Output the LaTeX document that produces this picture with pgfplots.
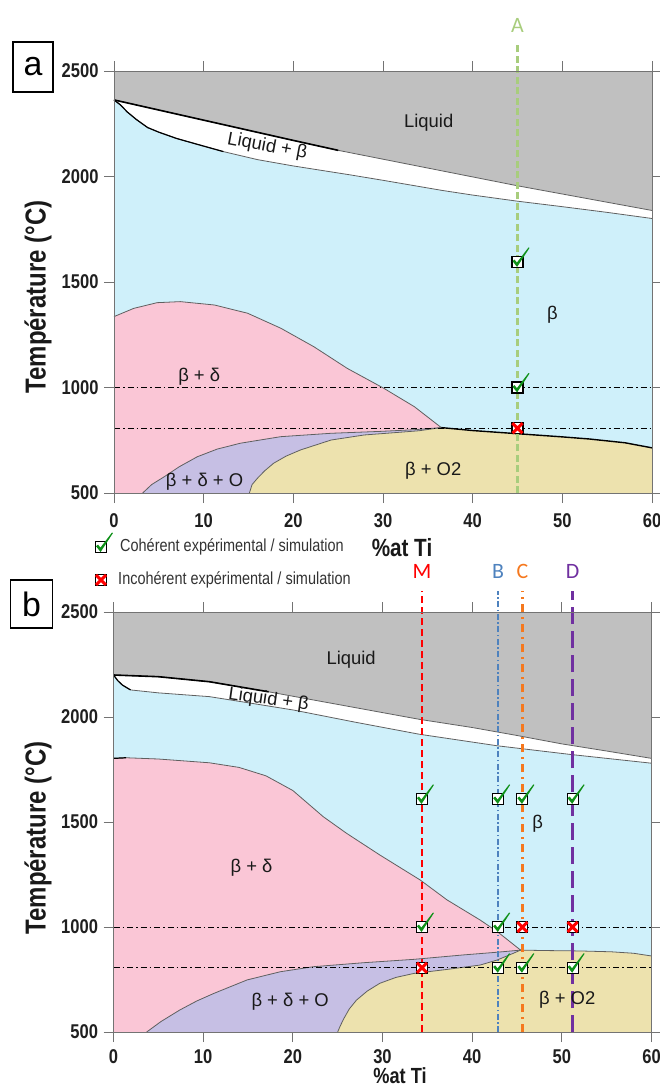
\documentclass[border=0pt]{standalone}
\usepackage{fontspec}
\setmainfont{Liberation Sans}
\newfontfamily\narrowfont[FakeStretch=0.83]{Liberation Sans}
\newfontfamily\calib{Carlito}
\usepackage{pgfplots}
\pgfplotsset{compat=1.18}

\definecolor{liqgray}{RGB}{192,192,192}
\definecolor{betablue}{RGB}{207,240,250}
\definecolor{bdpink}{RGB}{250,198,214}
\definecolor{bdopurple}{RGB}{198,191,228}
\definecolor{boyellow}{RGB}{237,226,174}
\definecolor{bndgray}{RGB}{95,95,95}
\definecolor{chkgreen}{RGB}{15,145,25}
\definecolor{agreen}{RGB}{168,205,125}
\definecolor{bblue}{RGB}{78,130,190}
\definecolor{corange}{RGB}{245,120,30}
\definecolor{dpurple}{RGB}{112,48,160}

\pgfdeclareplotmark{okbox}{%
  \pgfsetlinewidth{1.1bp}\pgfsetstrokecolor{black}\pgfsetfillcolor{white}%
  \pgfpathrectangle{\pgfpoint{-5.5bp}{-5.5bp}}{\pgfpoint{11bp}{11bp}}\pgfusepath{fill,stroke}%
  \pgfsetfillcolor{chkgreen}%
  \pgfpathmoveto{\pgfpoint{-5bp}{0.8bp}}%
  \pgfpathlineto{\pgfpoint{-3bp}{2.4bp}}%
  \pgfpathlineto{\pgfpoint{-0.6bp}{-0.6bp}}%
  \pgfpathlineto{\pgfpoint{11bp}{14.5bp}}%
  \pgfpathlineto{\pgfpoint{12bp}{14bp}}%
  \pgfpathlineto{\pgfpoint{-0.4bp}{-5bp}}%
  \pgfpathclose\pgfusepath{fill}}
\pgfdeclareplotmark{xbox}{%
  \pgfsetlinewidth{1.1bp}\pgfsetstrokecolor{black}\pgfsetfillcolor{white}%
  \pgfpathrectangle{\pgfpoint{-5.5bp}{-5.5bp}}{\pgfpoint{11bp}{11bp}}\pgfusepath{fill,stroke}%
  \pgfsetstrokecolor{red}\pgfsetlinewidth{3bp}%
  \pgfpathmoveto{\pgfpoint{-5bp}{-5bp}}\pgfpathlineto{\pgfpoint{5bp}{5bp}}%
  \pgfpathmoveto{\pgfpoint{-5bp}{5bp}}\pgfpathlineto{\pgfpoint{5bp}{-5bp}}%
  \pgfusepath{stroke}}

\pgfplotsset{
  phase/.style={
    scale only axis, width=538bp,
    xmin=0, xmax=60, ymin=500, ymax=2500,
    xtick={0,10,...,60}, ytick={500,1000,...,2500},
    tick align=outside, major tick length=10bp,
    axis line style={draw=black!55, line width=0.9bp},
    every tick/.style={draw=black!55, line width=0.9bp},
    ticklabel style={font=\narrowfont\bfseries\fontsize{20}{22}\selectfont, text=black!88},
    xticklabel style={yshift=-7bp},
    yticklabel style={xshift=-2bp},
    /pgf/number format/assume math mode=true,
    /pgf/number format/1000 sep={},
    clip=false, axis on top,
  },
}
\tikzset{
  bnd/.style={draw=bndgray, line width=0.8bp},
  bndk/.style={draw=black, line width=1.6bp},
  hline/.style={draw=black, line width=0.9bp, dash pattern=on 6bp off 3bp on 1.5bp off 3bp},
  reg/.style={font=\fontsize{18.5}{20}\selectfont, text=black!90},
  legtxt/.style={anchor=west, font=\narrowfont\fontsize{17.5}{19}\selectfont, text=black!80, inner sep=0pt},
  sec/.style={font=\calib\fontsize{22}{24}\selectfont},
}

\begin{document}
\begin{tikzpicture}
\path[use as bounding box] (0,0) rectangle (660bp,-1091bp);

% ================= panel a =================
\begin{axis}[phase, at={(114bp,-493bp)}, anchor=south west, height=422bp]
\addplot[fill=betablue, draw=none] coordinates {(0,500) (60,500) (60,2500) (0,2500)} -- cycle;
\addplot[fill=liqgray, draw=none] coordinates {(0,2363) (5,2315) (10,2267) (15,2219) (20,2171) (25,2124) (30,2082) (35,2040) (40,1998) (45,1956) (50,1917) (55,1878) (60,1839) (60,2500) (0,2500)} -- cycle;
\addplot[fill=white, draw=none] coordinates {(0,2363) (5,2315) (10,2267) (15,2219) (20,2171) (25,2124) (30,2082) (35,2040) (40,1998) (45,1956) (50,1917) (55,1878) (60,1839) (60,1801) (55,1830) (50,1857) (45,1883) (40,1912) (36.6,1934) (30,1982) (26.3,2008) (20,2050) (16,2080) (12.2,2118) (9.5,2150) (7,2180) (5,2210) (3.75,2232) (2.5,2270) (1.5,2305) (0.7,2340) (0,2363)} -- cycle;
\addplot[fill=bdpink, draw=none] coordinates {(0,1336) (2.2,1375) (4.8,1402) (7.4,1407) (11.2,1391) (14.9,1352) (18.6,1281) (22.3,1193) (26,1091) (30.1,996) (33.5,909) (36.5,810) (33.5,800) (29.7,792) (24.2,783) (18.6,767) (14.1,736) (11.5,708) (9.3,672) (7.3,625) (5.6,577) (4.2,540) (3.2,500) (0,500)} -- cycle;
\addplot[fill=bdopurple, draw=none] coordinates {(3.2,500) (4.2,540) (5.6,577) (7.3,625) (9.3,672) (11.5,708) (14.1,736) (18.6,767) (24.2,783) (29.7,792) (33.5,800) (36.5,810) (34,795) (31.6,787) (27.9,775) (24.2,751) (20.8,704) (19.2,675) (17.8,641) (16.8,605) (16,570) (15.4,540) (15.1,500)} -- cycle;
\addplot[fill=boyellow, draw=none] coordinates {(15.1,500) (15.4,540) (16,570) (16.8,605) (17.8,641) (19.2,675) (20.8,704) (24.2,751) (27.9,775) (31.6,787) (34,795) (36.5,810) (40,796) (45,781) (50,766) (53,756) (57,738) (60,714) (60,500)} -- cycle;
% boundaries
\addplot[bnd, no marks] coordinates {(0,2363) (5,2315) (10,2267) (15,2219) (20,2171) (25,2124) (30,2082) (35,2040) (40,1998) (45,1956) (50,1917) (55,1878) (60,1839)};
\addplot[bnd, no marks] coordinates {(0,2363) (0.7,2340) (1.5,2305) (2.5,2270) (3.75,2232) (5,2210) (7,2180) (9.5,2150) (12.2,2118) (16,2080) (20,2050) (26.3,2008) (30,1982) (36.6,1934) (40,1912) (45,1883) (50,1857) (55,1830) (60,1801)};
\addplot[bnd, no marks] coordinates {(0,1336) (2.2,1375) (4.8,1402) (7.4,1407) (11.2,1391) (14.9,1352) (18.6,1281) (22.3,1193) (26,1091) (30.1,996) (33.5,909) (36.5,810)};
\addplot[bnd, no marks] coordinates {(3.2,500) (4.2,540) (5.6,577) (7.3,625) (9.3,672) (11.5,708) (14.1,736) (18.6,767) (24.2,783) (29.7,792) (33.5,800) (36.5,810)};
\addplot[bnd, no marks] coordinates {(15.1,500) (15.4,540) (16,570) (16.8,605) (17.8,641) (19.2,675) (20.8,704) (24.2,751) (27.9,775) (31.6,787) (34,795) (36.5,810)};
\addplot[bndk, no marks] coordinates {(0,2363) (5,2315) (10,2267) (15,2219) (20,2171) (25,2124)};
\addplot[bndk, line width=1.2bp, no marks] coordinates {(0,2363) (0.7,2340) (1.5,2305) (2.5,2270) (3.75,2232) (5,2210) (7,2180) (9.5,2150) (12.2,2118)};
\addplot[bndk, line width=1.4bp, no marks] coordinates {(36.5,810) (40,796) (45,781) (50,766) (53,756) (57,738) (60,714)};
% isotherms
\addplot[hline, no marks] coordinates {(0,1000) (60,1000)};
\addplot[hline, no marks] coordinates {(0,807) (60,807)};
% section A
\addplot[draw=agreen, line width=2.8bp, dash pattern=on 7bp off 3.5bp, no marks] coordinates {(45,500) (45,2633)};
\node[sec, text=agreen] at (axis cs:45,2718) {A};
% region labels
\node[reg] at (axis cs:35.1,2254) {Liquid};
\node[reg, rotate=-10.5] at (axis cs:17.1,2141) {Liquid + β};
\node[reg] at (axis cs:48.9,1344) {β};
\node[reg] at (axis cs:9.5,1051) {β + δ};
\node[reg] at (axis cs:10.1,554) {β + δ + O};
\node[reg] at (axis cs:35.6,606) {β + O2};
% points
\addplot[only marks, mark=okbox] coordinates {(45,1595) (45,1000)};
\addplot[only marks, mark=xbox] coordinates {(45,807)};
% legend
\addplot[only marks, mark=okbox] coordinates {(-1.45,244)};
\addplot[only marks, mark=xbox] coordinates {(-1.45,88)};
\node[legtxt] at (axis cs:0.67,244) {Cohérent expérimental / simulation};
\node[legtxt] at (axis cs:0.45,88) {Incohérent expérimental / simulation};
\end{axis}

% ================= panel b =================
\begin{axis}[phase, at={(113.5bp,-1032bp)}, anchor=south west, height=420bp, xticklabel style={yshift=3bp}]
\addplot[fill=betablue, draw=none] coordinates {(0,500) (60,500) (60,2500) (0,2500)} -- cycle;
\addplot[fill=liqgray, draw=none] coordinates {(0,2200) (5,2192) (10.7,2168) (17.3,2120) (25,2060) (34.1,1989) (40,1950) (45,1912) (50,1872) (55,1838) (60,1803) (60,2500) (0,2500)} -- cycle;
\addplot[fill=white, draw=none] coordinates {(0,2200) (5,2192) (10.7,2168) (17.3,2120) (25,2060) (34.1,1989) (40,1950) (45,1912) (50,1872) (55,1838) (60,1803) (60,1780) (50.9,1822) (42.8,1863) (34.1,1918) (27,1975) (20.1,2033) (15,2068) (10.7,2097) (5,2115) (1.9,2129) (1,2152) (0.5,2172) (0,2200)} -- cycle;
\addplot[fill=bdpink, draw=none] coordinates {(0,1803) (1.4,1806) (5,1800) (10.7,1782) (14,1760) (17,1720) (20,1650) (23.4,1525) (26,1446) (29.7,1343) (34.2,1224) (37.2,1129) (40.9,1033) (42.8,978) (45.4,890) (42.8,880) (39,867) (33.5,846) (27.9,830) (22.3,811) (18.6,787) (14.9,748) (11.2,684) (9.3,648) (7.4,605) (5.3,550) (3.7,500) (0,500)} -- cycle;
\addplot[fill=bdopurple, draw=none] coordinates {(3.7,500) (5.3,550) (7.4,605) (9.3,648) (11.2,684) (14.9,748) (18.6,787) (22.3,811) (27.9,830) (33.5,846) (39,867) (42.8,880) (45.4,890) (44.6,875) (42.8,843) (40.9,819) (37.2,798) (33.5,779) (31.5,760) (29.7,732) (28.3,695) (27.1,652) (26.3,610) (25.7,565) (25.3,530) (25,500)} -- cycle;
\addplot[fill=boyellow, draw=none] coordinates {(25,500) (25.3,530) (25.7,565) (26.3,610) (27.1,652) (28.3,695) (29.7,732) (31.5,760) (33.5,779) (37.2,798) (40.9,819) (42.8,843) (44.6,875) (45.4,890) (48,888) (52,886) (55.5,882) (58,875) (60,862) (60,500)} -- cycle;
% boundaries
\addplot[bnd, no marks] coordinates {(0,2200) (5,2192) (10.7,2168) (17.3,2120) (25,2060) (34.1,1989) (40,1950) (45,1912) (50,1872) (55,1838) (60,1803)};
\addplot[bnd, no marks] coordinates {(0,2200) (0.5,2172) (1,2152) (1.9,2129) (5,2115) (10.7,2097) (15,2068) (20.1,2033) (27,1975) (34.1,1918) (42.8,1863) (50.9,1822) (60,1780)};
\addplot[bnd, no marks] coordinates {(0,1803) (1.4,1806) (5,1800) (10.7,1782) (14,1760) (17,1720) (20,1650) (23.4,1525) (26,1446) (29.7,1343) (34.2,1224) (37.2,1129) (40.9,1033) (42.8,978) (45.4,890)};
\addplot[bnd, no marks] coordinates {(3.7,500) (5.3,550) (7.4,605) (9.3,648) (11.2,684) (14.9,748) (18.6,787) (22.3,811) (27.9,830) (33.5,846) (39,867) (42.8,880) (45.4,890)};
\addplot[bnd, no marks] coordinates {(25,500) (25.3,530) (25.7,565) (26.3,610) (27.1,652) (28.3,695) (29.7,732) (31.5,760) (33.5,779) (37.2,798) (40.9,819) (42.8,843) (44.6,875) (45.4,890) (48,888) (52,886) (55.5,882) (58,875) (60,862)};
\addplot[bndk, no marks] coordinates {(0,2200) (5,2192) (10.7,2168) (17.3,2120)};
\addplot[bndk, line width=1.2bp, no marks] coordinates {(0,2200) (0.5,2172) (1,2152) (1.9,2129)};
\addplot[bndk, line width=1.2bp, no marks] coordinates {(0,1803) (1.4,1806)};
% isotherms
\addplot[hline, no marks] coordinates {(0,1000) (60,1000)};
\addplot[hline, no marks] coordinates {(0,806) (60,806)};
% sections
\addplot[draw=red, line width=2.6bp, dash pattern=on 7bp off 4bp, no marks] coordinates {(34.4,500) (34.4,2600)};
\addplot[draw=bblue, line width=2.4bp, dash pattern=on 6bp off 2.5bp on 1.5bp off 2.5bp, no marks] coordinates {(42.9,500) (42.9,2600)};
\addplot[draw=corange, line width=2.6bp, dash pattern=on 8bp off 5bp on 2bp off 5bp, no marks] coordinates {(45.6,500) (45.6,2600)};
\addplot[draw=dpurple, line width=2.6bp, dash pattern=on 17bp off 7bp, no marks] coordinates {(51.2,500) (51.2,2600)};
\node[sec, text=red] at (axis cs:34.4,2692) {M};
\node[sec, text=bblue] at (axis cs:42.9,2692) {B};
\node[sec, text=corange] at (axis cs:45.6,2692) {C};
\node[sec, text=dpurple] at (axis cs:51.2,2692) {D};
% region labels
\node[reg] at (axis cs:26.5,2271) {Liquid};
\node[reg, rotate=-8] at (axis cs:17.3,2081) {Liquid + β};
\node[reg] at (axis cs:47.3,1494) {β};
\node[reg] at (axis cs:15.4,1280) {β + δ};
\node[reg] at (axis cs:19.7,644) {β + δ + O};
\node[reg] at (axis cs:50.6,652) {β + O2};
% points
\addplot[only marks, mark=okbox] coordinates {(34.4,1610) (42.9,1610) (45.6,1610) (51.2,1610) (34.4,1000) (42.9,1000) (42.9,806) (45.6,806) (51.2,806)};
\addplot[only marks, mark=xbox] coordinates {(45.6,1000) (51.2,1000) (34.4,806)};
\end{axis}

% panel tags and axis titles
\node[draw=black, line width=1.6bp, minimum width=40bp, minimum height=50bp, inner sep=0pt, font=\fontsize{34}{36}\selectfont] at (33bp,-67bp) {a};
\node[draw=black, line width=1.6bp, minimum width=42bp, minimum height=48bp, inner sep=0pt, font=\fontsize{34}{36}\selectfont] at (31.5bp,-604bp) {b};
\node[rotate=90, font=\narrowfont\bfseries\fontsize{29}{31}\selectfont, text=black!90] at (38bp,-297bp) {Température (°C)};
\node[rotate=90, font=\narrowfont\bfseries\fontsize{29}{31}\selectfont, text=black!90] at (38bp,-838bp) {Température (°C)};
\node[font=\narrowfont\bfseries\fontsize{25}{27}\selectfont, text=black!90] at (402bp,-548bp) {\%at Ti};
\node[font=\narrowfont\bfseries\fontsize{22}{24}\selectfont, text=black!90, inner sep=1bp] at (400bp,-1076bp) {\%at Ti};
\end{tikzpicture}
\end{document}
